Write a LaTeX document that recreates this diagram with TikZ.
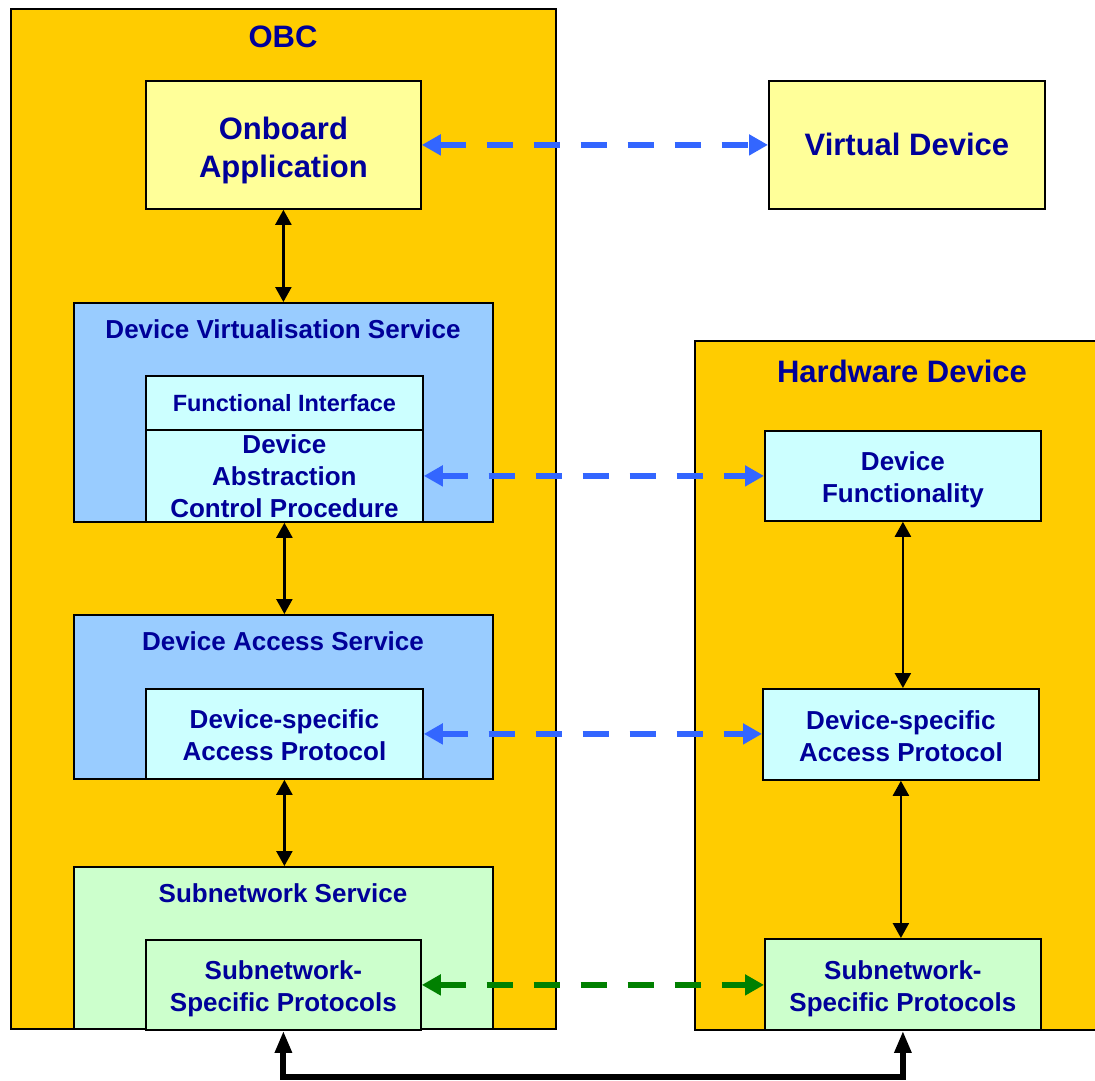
\documentclass[tikz,border=0pt]{standalone}
\usepackage{fontspec}
\setmainfont{Liberation Sans}
\usetikzlibrary{arrows.meta}
\definecolor{obcfill}{HTML}{FFCC00}
\definecolor{appfill}{HTML}{FFFF99}
\definecolor{svcfill}{HTML}{99CCFF}
\definecolor{cyanfill}{HTML}{CCFFFF}
\definecolor{greenfill}{HTML}{CCFFCC}
\definecolor{navytext}{HTML}{000099}
\definecolor{linkblue}{HTML}{3366FF}
\definecolor{linkgreen}{HTML}{008000}
% two centred lines, set slightly below the geometric centre of the box
\newcommand{\twolines}[2]{\raisebox{\dimexpr-0.25em-4pt\relax}[0pt][0pt]{\begin{tabular}{@{}c@{}}#1\\#2\end{tabular}}}
\begin{document}
\begin{tikzpicture}[x=1pt,y=-1pt,
  box/.style={draw=black, line width=1.8pt, inner sep=0pt, anchor=north west,
    align=center, text=navytext, font=\bfseries\fontsize{26}{32}\selectfont},
  bigtext/.style={font=\bfseries\fontsize{31}{38}\selectfont},
  title/.style={text=navytext, inner sep=0pt, font=\bfseries\fontsize{26}{32}\selectfont},
  bigtitle/.style={text=navytext, inner sep=0pt, font=\bfseries\fontsize{31}{38}\selectfont},
  callarrow/.style={line width=2.4pt, {Triangle[length=15pt,width=16pt]}-{Triangle[length=15pt,width=16pt]}},
  peerlink/.style={line width=6.5pt, dash pattern=on 26pt off 21pt,
    {Triangle[length=19pt,width=20pt]}-{Triangle[length=19pt,width=20pt]}},
  buslink/.style={line width=6pt, {Triangle[length=22pt,width=16pt]}-{Triangle[length=22pt,width=16pt]}}
]
\clip (0,0) rectangle (1095,1080);
\fill[white] (0,0) rectangle (1095,1080);

% outer containers
\node[box, fill=obcfill, minimum width=545pt, minimum height=1020pt] (obc) at (10,8) {};
\node[bigtitle] (obctitle) at (283,37) {OBC};
\node[box, fill=obcfill, minimum width=410pt, minimum height=689pt] (hw) at (694,340) {};
\node[bigtitle] (hwtitle) at (902,371) {Hardware Device};

% application level
\node[box, bigtext, fill=appfill, minimum width=275pt, minimum height=128pt] (oa) at (145,80) {\twolines{Onboard}{Application}};
\node[box, bigtext, fill=appfill, minimum width=276pt, minimum height=128pt] (vd) at (768,80) {Virtual Device};

% device virtualisation service
\node[box, fill=svcfill, minimum width=419pt, minimum height=219pt] (dvs) at (73,302) {};
\node[title] (dvstitle) at (283,329) {Device Virtualisation Service};
\node[box, fill=cyanfill, minimum width=277pt, minimum height=54pt,
  font=\bfseries\fontsize{23.5}{28}\selectfont] (fi) at (145,375) {Functional Interface};
\node[box, fill=cyanfill, minimum width=277pt, minimum height=92pt] (dacp) at (145,429) {Device\\Abstraction\\Control Procedure};

% device access service
\node[box, fill=svcfill, minimum width=419pt, minimum height=164pt] (das) at (73,614) {};
\node[title] (dastitle) at (283,641) {Device Access Service};
\node[box, fill=cyanfill, minimum width=277pt, minimum height=90pt] (dsap) at (145,688) {\twolines{Device-specific}{Access Protocol}};

% subnetwork service
\node[box, fill=greenfill, minimum width=419pt, minimum height=162pt] (ss) at (73,866) {};
\node[title] (sstitle) at (283,893) {Subnetwork Service};
\node[box, fill=greenfill, minimum width=275pt, minimum height=90pt] (ssp) at (145,939) {\twolines{Subnetwork-}{Specific Protocols}};

% hardware device internals
\node[box, fill=cyanfill, minimum width=276pt, minimum height=90pt] (df) at (764,430) {\twolines{Device}{Functionality}};
\node[box, fill=cyanfill, minimum width=276pt, minimum height=91pt] (rdsap) at (762,688) {\twolines{Device-specific}{Access Protocol}};
\node[box, fill=greenfill, minimum width=276pt, minimum height=91pt] (rssp) at (764,938) {\twolines{Subnetwork-}{Specific Protocols}};

% vertical service calls
\draw[callarrow] (oa.south) -- (oa.south |- dvs.north);
\draw[callarrow] (dacp.south) -- (dacp.south |- das.north);
\draw[callarrow] (dsap.south) -- (dsap.south |- ss.north);
\draw[callarrow] (df.south) -- (df.south |- rdsap.north);
\draw[callarrow] (rdsap.south) -- (rdsap.south |- rssp.north);

% peer-to-peer links
\draw[peerlink, linkblue] (oa.east) -- (vd.west);
\draw[peerlink, linkblue] (dacp.east) -- (dacp.east -| df.west);
\draw[peerlink, linkblue] (dsap.east) -- (dsap.east -| rdsap.west);
\draw[peerlink, linkgreen] (ssp.east) -- (ssp.east -| rssp.west);

% physical bus
\draw[buslink] (ssp.south) -- ++(0,46) -| (rssp.south);
\end{tikzpicture}
\end{document}
